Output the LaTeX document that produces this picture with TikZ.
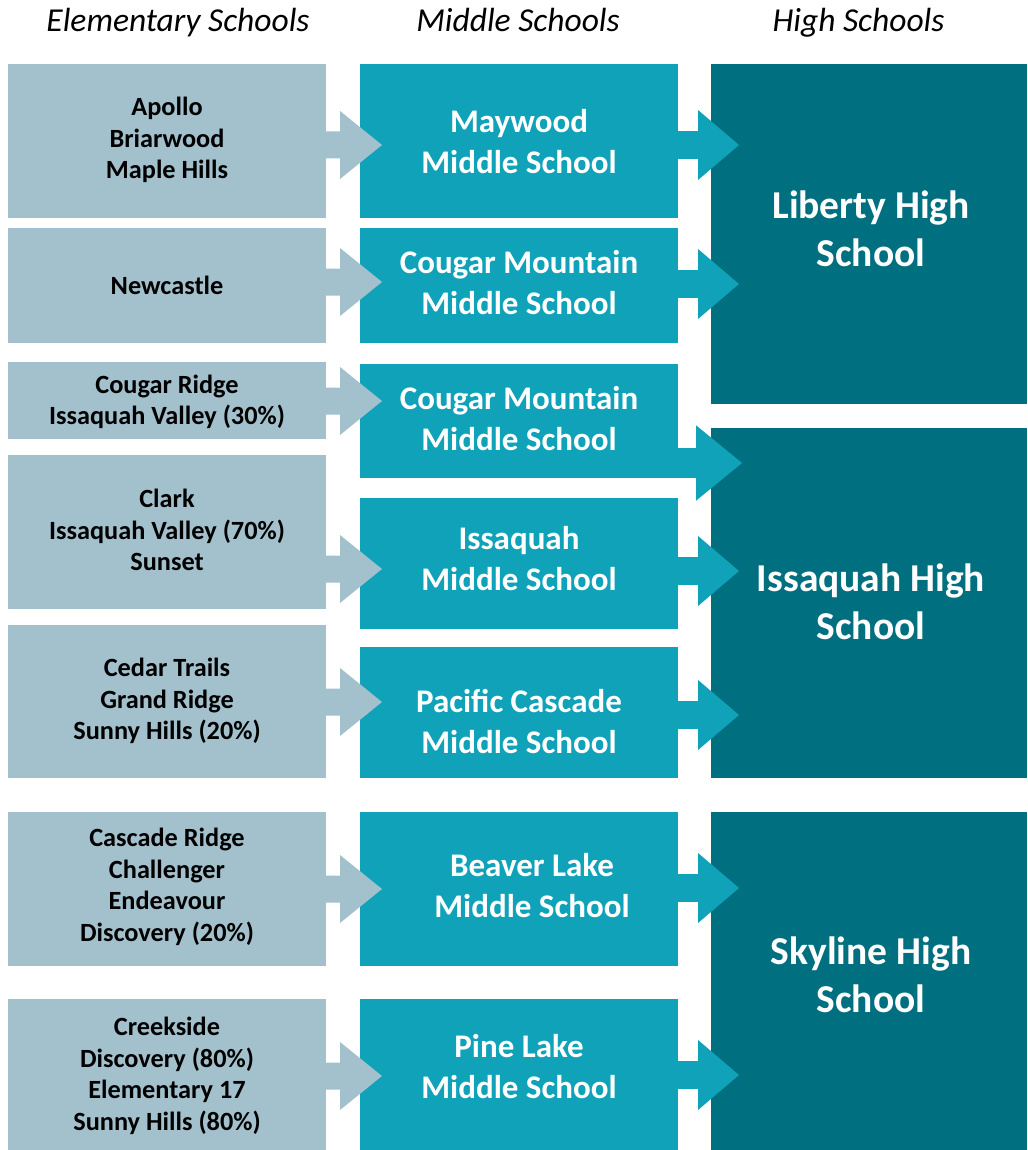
\documentclass[tikz,border=0pt]{standalone}
\usepackage{fontspec}
\setmainfont{Carlito}
\usetikzlibrary{calc}
\definecolor{elemc}{HTML}{A3C1CC}
\definecolor{midc}{HTML}{10A2B9}
\definecolor{highc}{HTML}{006F80}
\newcommand\flowarrow[5]{%
  \fill[#3] let \p1=(#1.east), \p2=(#2) in
    (\x1,\y2+13.5pt*#5) -- (\x1+#4,\y2+13.5pt*#5) -- (\x1+#4,\y2+34pt*#5) -- (\p2)
    -- (\x1+#4,\y2-34pt*#5) -- (\x1+#4,\y2-13.5pt*#5) -- (\x1,\y2-13.5pt*#5) -- cycle;}
\begin{document}
\begin{tikzpicture}[x=1pt,y=1pt,
  box/.style={rectangle,inner sep=0pt,outer sep=0pt,anchor=north west,draw=none},
  ebox/.style={box,fill=elemc,minimum width=318pt},
  mbox/.style={box,fill=midc,minimum width=318pt},
  hbox/.style={box,fill=highc,minimum width=316pt},
  txt/.style={align=center,inner sep=0pt,execute at begin node=\strut,execute at end node=\strut},
  etext/.style={txt,text=black,font=\bfseries\fontsize{26.3}{31.5}\selectfont},
  mtext/.style={txt,text=white,font=\bfseries\fontsize{33}{41}\selectfont},
  htext/.style={txt,text=white,font=\bfseries\fontsize{39.5}{48}\selectfont},
  hdr/.style={anchor=base,inner sep=0pt,font=\itshape\fontsize{33.5}{40}\selectfont},
  earrow/.style={fill=elemc},
  marrow/.style={fill=midc}]
\useasboundingbox (0,0) rectangle (1027,-1150);
\fill[white] (0,0) rectangle (1027,-1150);
% headers
\node[hdr] (he) at (178,-32) {Elementary Schools};
\node[hdr] (hm) at (518,-32) {Middle Schools};
\node[hdr] (hh) at (858.5,-32) {High Schools};
% elementary boxes
\node[ebox,minimum height=154pt] (e1) at (8,-64) {};
\node[ebox,minimum height=115pt] (e2) at (8,-228) {};
\node[ebox,minimum height=77pt]  (e3) at (8,-362) {};
\node[ebox,minimum height=154pt] (e4) at (8,-455) {};
\node[ebox,minimum height=153pt] (e5) at (8,-625) {};
\node[ebox,minimum height=154pt] (e6) at (8,-812) {};
\node[ebox,minimum height=151pt] (e7) at (8,-999) {};
% middle boxes
\node[mbox,minimum height=154pt] (m1) at (360,-64) {};
\node[mbox,minimum height=115pt] (m2) at (360,-228) {};
\node[mbox,minimum height=114pt] (m3) at (360,-364) {};
\node[mbox,minimum height=131pt] (m4) at (360,-498) {};
\node[mbox,minimum height=131pt] (m5) at (360,-647) {};
\node[mbox,minimum height=154pt] (m6) at (360,-812) {};
\node[mbox,minimum height=151pt] (m7) at (360,-999) {};
% high boxes
\node[hbox,minimum height=340pt] (h1) at (711,-64) {};
\node[hbox,minimum height=350pt] (h2) at (711,-428) {};
\node[hbox,minimum height=338pt] (h3) at (711,-812) {};
% arrow tips
\coordinate (te1) at (382,-145);
\coordinate (te2) at (382,-282);
\coordinate (te3) at (382,-401);
\coordinate (te4) at (382,-569);
\coordinate (te5) at (382,-702);
\coordinate (te6) at (382,-889);
\coordinate (te7) at (382,-1076);
\coordinate (tm1) at (739,-145);
\coordinate (tm2) at (739,-284);
\coordinate (tm3) at (742,-463);
\coordinate (tm4) at (739,-571);
\coordinate (tm5) at (739,-715);
\coordinate (tm6) at (739,-888);
\coordinate (tm7) at (739,-1075);
% arrows elementary -> middle
\flowarrow{e1}{te1}{earrow}{14pt}{1}
\flowarrow{e2}{te2}{earrow}{14pt}{1}
\flowarrow{e3}{te3}{earrow}{14pt}{1}
\flowarrow{e4}{te4}{earrow}{14pt}{1}
\flowarrow{e5}{te5}{earrow}{14pt}{1}
\flowarrow{e6}{te6}{earrow}{14pt}{1}
\flowarrow{e7}{te7}{earrow}{14pt}{1}
% arrows middle -> high
\flowarrow{m1}{tm1}{marrow}{20pt}{1.03}
\flowarrow{m2}{tm2}{marrow}{20pt}{1.03}
\flowarrow{m3}{tm3}{marrow}{18pt}{1.11}
\flowarrow{m4}{tm4}{marrow}{20pt}{1.03}
\flowarrow{m5}{tm5}{marrow}{20pt}{1.03}
\flowarrow{m6}{tm6}{marrow}{20pt}{1.03}
\flowarrow{m7}{tm7}{marrow}{20pt}{1.03}
% texts
\node[etext] (e1t) at (167,-142.5) {Apollo\\Briarwood\\Maple Hills};
\node[etext] (e2t) at (167,-288.5) {Newcastle};
\node[etext] (e3t) at (167,-404.5) {Cougar Ridge\\Issaquah Valley (30\%)};
\node[etext] (e4t) at (167,-534.5) {Clark\\Issaquah Valley (70\%)\\Sunset};
\node[etext] (e5t) at (167,-703.5) {Cedar Trails\\Grand Ridge\\Sunny Hills (20\%)};
\node[etext] (e6t) at (167,-889.5) {Cascade Ridge\\Challenger\\Endeavour\\Discovery (20\%)};
\node[etext] (e7t) at (167,-1078.5) {Creekside\\Discovery (80\%)\\Elementary 17\\Sunny Hills (80\%)};
\node[mtext] (m1t) at (519,-147.8) {Maywood\\Middle School};
\node[mtext] (m2t) at (519,-288.8) {Cougar Mountain\\Middle School};
\node[mtext] (m3t) at (519,-424.8) {Cougar Mountain\\Middle School};
\node[mtext] (m4t) at (519,-564.8) {Issaquah\\Middle School};
\node[mtext] (m5t) at (519,-727.8) {Pacific Cascade\\Middle School};
\node[mtext] (m6t) at (532,-891.8) {Beaver Lake\\Middle School};
\node[mtext] (m7t) at (519,-1072.8) {Pine Lake\\Middle School};
\node[htext] (h1t) at (871,-236.3) {Liberty High\\School};
\node[htext] (h2t) at (871,-608.4) {Issaquah High\\School};
\node[htext] (h3t) at (871,-981.4) {Skyline High\\School};
\end{tikzpicture}
\end{document}
